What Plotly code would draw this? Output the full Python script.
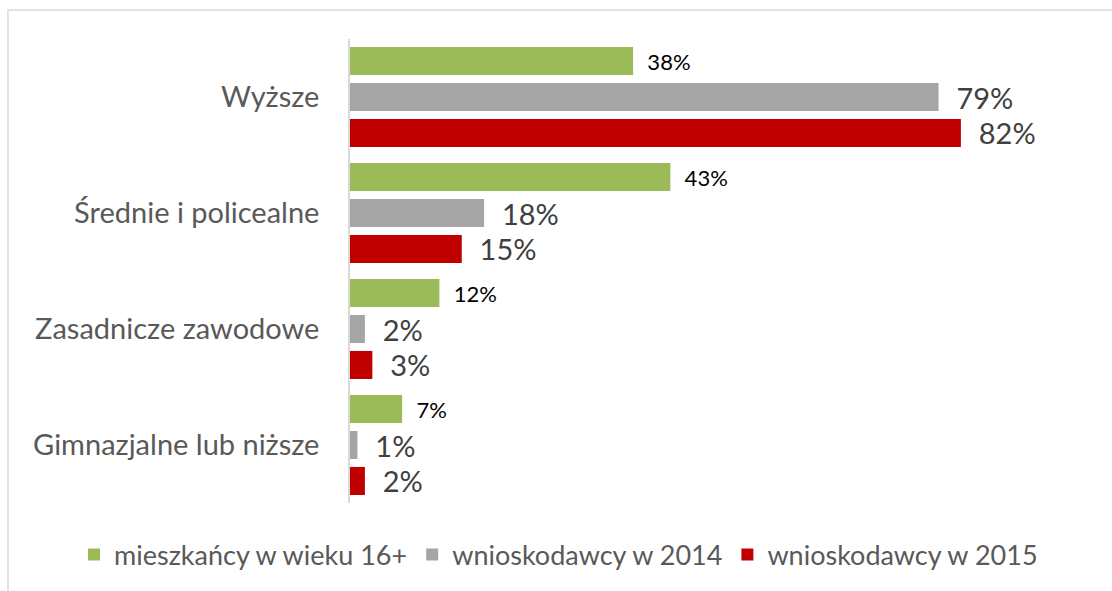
import plotly.graph_objects as go

categories = ["Wyższe", "Średnie i policealne", "Zasadnicze zawodowe", "Gimnazjalne lub niższe"]
series_names = ["mieszkańcy w wieku 16+", "wnioskodawcy w 2014", "wnioskodawcy w 2015"]
residents_16 = [38, 43, 12, 7]
applicants_2014 = [79, 18, 2, 1]
applicants_2015 = [82, 15, 3, 2]

colors = ["#9BBB59", "#A5A5A5", "#C00000"]
label_fonts = [
    dict(size=22, color="#000000", family="Lato"),
    dict(size=29, color="#404040", family="Lato"),
    dict(size=29, color="#404040", family="Lato"),
]
pads = ["\u00a0\u00a0", "\u00a0\u00a0", "\u00a0\u00a0"]

fig = go.Figure()
for name, vals, col, tf, pad in zip(series_names, [residents_16, applicants_2014, applicants_2015], colors, label_fonts, pads):
    fig.add_trace(go.Bar(
        y=categories, x=vals, name=name, orientation="h",
        marker=dict(color=col, line=dict(width=0)),
        text=[f"{pad}{v}%" for v in vals],
        textposition="outside", textfont=tf, constraintext="none",
        cliponaxis=False, hoverinfo="skip",
    ))

L, R, T, B = 350, 1095, 39, 503
W, H = 1112, 591

fig.update_layout(
    width=W, height=H,
    margin=dict(l=L, r=W - R, t=T, b=H - B),
    barmode="group", bargap=0.07, bargroupgap=0.22,
    plot_bgcolor="white", paper_bgcolor="white",
    font=dict(family="Lato", color="#595959"),
    showlegend=True,
    legend=dict(
        orientation="h", xref="paper", yref="paper",
        x=(74 - L) / (R - L), xanchor="left",
        y=(B - 555) / (B - T), yanchor="middle",
        font=dict(size=27, color="#595959", family="Lato"),
        itemwidth=30, traceorder="normal",
    ),
    xaxis=dict(range=[0, 100], showgrid=False, zeroline=False, showticklabels=False,
               showline=False, fixedrange=True),
    yaxis=dict(autorange="reversed", showgrid=False, zeroline=False, showline=True,
               linecolor="#D9D9D9", linewidth=1.5, ticks="",
               tickfont=dict(size=29, color="#595959", family="Lato"),
               ticklabelstandoff=23, fixedrange=True),
    shapes=[dict(type="rect", xref="paper", yref="paper",
                 x0=(8 - L) / (R - L), x1=(1125 - L) / (R - L),
                 y0=(B - 610) / (B - T), y1=(B - 10) / (B - T),
                 line=dict(color="#D9D9D9", width=1.5), fillcolor="rgba(0,0,0,0)", layer="below")],
)

fig.write_html("out.html", config={"displayModeBar": False},
               post_script="document.body.style.margin='0px';")
